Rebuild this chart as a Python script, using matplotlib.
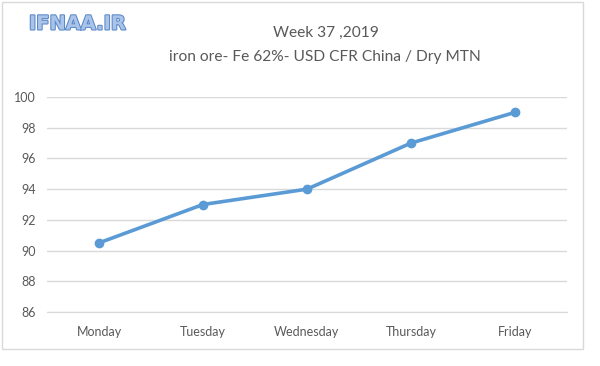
import matplotlib
matplotlib.use("Agg")
import matplotlib.pyplot as plt
from matplotlib.patches import Rectangle
import matplotlib.patheffects as pe

days = ["Monday", "Tuesday", "Wednesday", "Thursday", "Friday"]
prices = [90.5, 93, 94, 97, 99]
yticks = [86, 88, 90, 92, 94, 96, 98, 100]

plt.rcParams['font.family'] = ['Lato', 'DejaVu Sans']

fig = plt.figure(figsize=(6, 3.66), dpi=100)
fig.patch.set_facecolor("white")
fig.add_artist(Rectangle((2/600, 1-349/366), 581/600, 347/366, transform=fig.transFigure,
                         fill=False, edgecolor="#d9d9d9", linewidth=1))

ax = fig.add_axes([47/600, 54/366, 520/600, 215/366])
x = list(range(len(days)))
ax.plot(x, prices, color="#5b9bd5", linewidth=2.6, marker="o", markersize=6,
        solid_capstyle="round", zorder=3)
ax.set_xlim(-0.5, len(days) - 0.5)
ax.set_ylim(86, 100)
ax.set_yticks(yticks)
ax.set_xticks(x)
ax.set_xticklabels(days)
ax.grid(axis="y", color="#d9d9d9", linewidth=1)
ax.set_axisbelow(True)
for s in ["top", "right", "left"]:
    ax.spines[s].set_visible(False)
ax.spines["bottom"].set_color("#d9d9d9")
ax.tick_params(axis="both", length=0, colors="#595959", labelsize=9)
ax.tick_params(axis="x", pad=10)
ax.tick_params(axis="y", pad=8)

fig.text(326/600, 1-33/366, "Week 37 ,2019", ha="center", va="center",
         fontsize=11.2, color="#595959")
fig.text(325/600, 1-57/366, "iron ore- Fe 62%- USD CFR China / Dry MTN", ha="center",
         va="center", fontsize=11.2, color="#595959")

fig.text(29/600, 1-24/366, "IFNAA.IR", ha="left", va="center", fontsize=14,
         fontweight="bold", color="#a9c4e8", family=["DejaVu Sans"],
         path_effects=[pe.withStroke(linewidth=1.5, foreground="#5a88c8")])

fig.savefig("out.png", dpi=100, facecolor="white")
